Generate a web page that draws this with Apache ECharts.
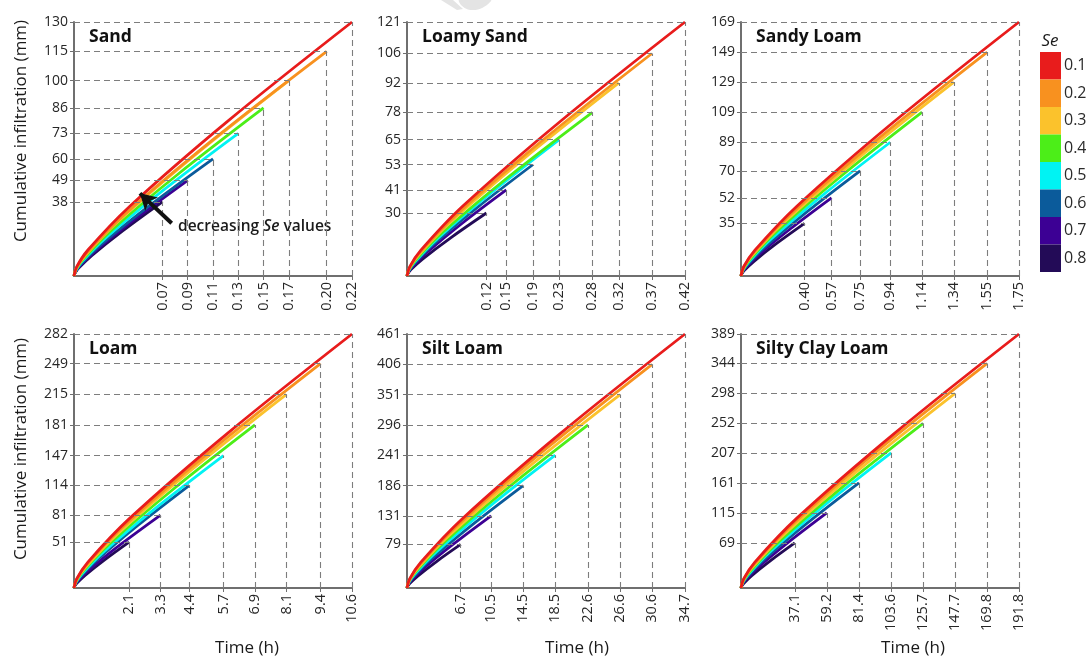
<!DOCTYPE html>
<html>
<head>
<meta charset="utf-8">
<script src="https://cdn.jsdelivr.net/npm/echarts@6/dist/echarts.min.js"></script>
<style>
  html, body { margin: 0; padding: 0; background: #fff; }
  #chart { width: 1086px; height: 659px; }
</style>
</head>
<body>
<div id="chart"></div>
<script>
// Effective saturation classes (legend order, top to bottom)
const seLabels = ['0.1', '0.2', '0.3', '0.4', '0.5', '0.6', '0.7', '0.8'];
const seColors = ['#e81c1c', '#f8911f', '#fbc22c', '#4cee18', '#00f3f3', '#0b5b9b', '#3c0094', '#230b57'];

const soilNames = ['Sand', 'Loamy Sand', 'Sandy Loam', 'Loam', 'Silt Loam', 'Silty Clay Loam'];

// End of each curve: time (h) and cumulative infiltration (mm), ordered Se 0.8 -> 0.1
const sandTimes = ['0.07', '0.09', '0.11', '0.13', '0.15', '0.17', '0.20', '0.22'];
const sandDepths = [38, 49, 60, 73, 86, 100, 115, 130];
const loamySandTimes = ['0.12', '0.15', '0.19', '0.23', '0.28', '0.32', '0.37', '0.42'];
const loamySandDepths = [30, 41, 53, 65, 78, 92, 106, 121];
const sandyLoamTimes = ['0.40', '0.57', '0.75', '0.94', '1.14', '1.34', '1.55', '1.75'];
const sandyLoamDepths = [35, 52, 70, 89, 109, 129, 149, 169];
const loamTimes = ['2.1', '3.3', '4.4', '5.7', '6.9', '8.1', '9.4', '10.6'];
const loamDepths = [51, 81, 114, 147, 181, 215, 249, 282];
const siltLoamTimes = ['6.7', '10.5', '14.5', '18.5', '22.6', '26.6', '30.6', '34.7'];
const siltLoamDepths = [79, 131, 186, 241, 296, 351, 406, 461];
const siltyClayLoamTimes = ['37.1', '59.2', '81.4', '103.6', '125.7', '147.7', '169.8', '191.8'];
const siltyClayLoamDepths = [69, 115, 161, 207, 252, 298, 344, 389];

// Cumulative infiltration curves [time, depth], ordered Se 0.8 -> 0.1
const sandCurves = [
  [[0, 0], [0.0007, 1.4], [0.0035, 3.9], [0.014, 10.4], [0.0385, 23.1], [0.07, 38]],
  [[0, 0], [0.0009, 1.8], [0.0045, 5.0], [0.018, 13.4], [0.0495, 29.7], [0.09, 49]],
  [[0, 0], [0.0011, 2.2], [0.0055, 6.1], [0.022, 16.4], [0.0605, 36.4], [0.11, 60]],
  [[0, 0], [0.0013, 2.7], [0.0065, 7.5], [0.026, 20.0], [0.0715, 44.3], [0.13, 73]],
  [[0, 0], [0.0015, 3.2], [0.0075, 8.8], [0.03, 23.6], [0.0825, 52.2], [0.15, 86]],
  [[0, 0], [0.0017, 3.7], [0.0085, 10.2], [0.034, 27.4], [0.0935, 60.7], [0.17, 100]],
  [[0, 0], [0.002, 4.3], [0.01, 11.7], [0.04, 31.5], [0.11, 69.8], [0.20, 115]],
  [[0, 0], [0.0022, 4.8], [0.011, 13.3], [0.044, 35.6], [0.121, 78.9], [0.22, 130]]
];
const loamySandCurves = [
  [[0, 0], [0.0012, 1.1], [0.006, 3.1], [0.024, 8.2], [0.066, 18.2], [0.12, 30]],
  [[0, 0], [0.0015, 1.5], [0.0075, 4.2], [0.03, 11.2], [0.0825, 24.9], [0.15, 41]],
  [[0, 0], [0.0019, 2.0], [0.0095, 5.4], [0.038, 14.5], [0.1045, 32.2], [0.19, 53]],
  [[0, 0], [0.0023, 2.4], [0.0115, 6.6], [0.046, 17.8], [0.1265, 39.5], [0.23, 65]],
  [[0, 0], [0.0028, 2.9], [0.014, 8.0], [0.056, 21.4], [0.154, 47.4], [0.28, 78]],
  [[0, 0], [0.0032, 3.4], [0.016, 9.4], [0.064, 25.2], [0.176, 55.8], [0.32, 92]],
  [[0, 0], [0.0037, 3.9], [0.0185, 10.8], [0.074, 29.0], [0.2035, 64.3], [0.37, 106]],
  [[0, 0], [0.0042, 4.5], [0.021, 12.3], [0.084, 33.2], [0.231, 73.5], [0.42, 121]]
];
const sandyLoamCurves = [
  [[0, 0], [0.004, 1.3], [0.02, 3.6], [0.08, 9.6], [0.22, 21.3], [0.40, 35]],
  [[0, 0], [0.0057, 1.9], [0.0285, 5.3], [0.114, 14.3], [0.3135, 31.6], [0.57, 52]],
  [[0, 0], [0.0075, 2.6], [0.0375, 7.1], [0.15, 19.2], [0.4125, 42.5], [0.75, 70]],
  [[0, 0], [0.0094, 3.3], [0.047, 9.1], [0.188, 24.4], [0.517, 54.0], [0.94, 89]],
  [[0, 0], [0.0114, 4.0], [0.057, 11.1], [0.228, 29.9], [0.627, 66.2], [1.14, 109]],
  [[0, 0], [0.0134, 4.8], [0.067, 13.2], [0.268, 35.4], [0.737, 78.3], [1.34, 129]],
  [[0, 0], [0.0155, 5.5], [0.0775, 15.2], [0.31, 40.8], [0.8525, 90.4], [1.55, 149]],
  [[0, 0], [0.0175, 6.3], [0.0875, 17.2], [0.35, 46.3], [0.9625, 102.6], [1.75, 169]]
];
const loamCurves = [
  [[0, 0], [0.021, 1.9], [0.105, 5.2], [0.42, 14.0], [1.155, 31.0], [2.1, 51]],
  [[0, 0], [0.033, 3.0], [0.165, 8.3], [0.66, 22.2], [1.815, 49.2], [3.3, 81]],
  [[0, 0], [0.044, 4.2], [0.22, 11.6], [0.88, 31.2], [2.42, 69.2], [4.4, 114]],
  [[0, 0], [0.057, 5.4], [0.285, 15.0], [1.14, 40.3], [3.135, 89.2], [5.7, 147]],
  [[0, 0], [0.069, 6.7], [0.345, 18.5], [1.38, 49.6], [3.795, 109.9], [6.9, 181]],
  [[0, 0], [0.081, 8.0], [0.405, 21.9], [1.62, 58.9], [4.455, 130.5], [8.1, 215]],
  [[0, 0], [0.094, 9.2], [0.47, 25.4], [1.88, 68.2], [5.17, 151.1], [9.4, 249]],
  [[0, 0], [0.106, 10.4], [0.53, 28.8], [2.12, 77.3], [5.83, 171.2], [10.6, 282]]
];
const siltLoamCurves = [
  [[0, 0], [0.067, 2.9], [0.335, 8.1], [1.34, 21.7], [3.685, 48.0], [6.7, 79]],
  [[0, 0], [0.105, 4.9], [0.525, 13.4], [2.1, 35.9], [5.775, 79.5], [10.5, 131]],
  [[0, 0], [0.145, 6.9], [0.725, 19.0], [2.9, 51.0], [7.975, 112.9], [14.5, 186]],
  [[0, 0], [0.185, 8.9], [0.925, 24.6], [3.7, 66.0], [10.175, 146.3], [18.5, 241]],
  [[0, 0], [0.226, 11.0], [1.13, 30.2], [4.52, 81.1], [12.43, 179.7], [22.6, 296]],
  [[0, 0], [0.266, 13.0], [1.33, 35.8], [5.32, 96.2], [14.63, 213.1], [26.6, 351]],
  [[0, 0], [0.306, 15.0], [1.53, 41.4], [6.12, 111.2], [16.83, 246.4], [30.6, 406]],
  [[0, 0], [0.347, 17.1], [1.735, 47.0], [6.94, 126.3], [19.085, 279.8], [34.7, 461]]
];
const siltyClayLoamCurves = [
  [[0, 0], [0.371, 2.6], [1.855, 7.0], [7.42, 18.9], [20.405, 41.9], [37.1, 69]],
  [[0, 0], [0.592, 4.3], [2.96, 11.7], [11.84, 31.5], [32.56, 69.8], [59.2, 115]],
  [[0, 0], [0.814, 6.0], [4.07, 16.4], [16.28, 44.1], [44.77, 97.7], [81.4, 161]],
  [[0, 0], [1.036, 7.7], [5.18, 21.1], [20.72, 56.7], [56.98, 125.7], [103.6, 207]],
  [[0, 0], [1.257, 9.3], [6.285, 25.7], [25.14, 69.1], [69.135, 153.0], [125.7, 252]],
  [[0, 0], [1.477, 11.0], [7.385, 30.4], [29.54, 81.7], [81.235, 180.9], [147.7, 298]],
  [[0, 0], [1.698, 12.7], [8.49, 35.1], [33.96, 94.3], [93.39, 208.8], [169.8, 344]],
  [[0, 0], [1.918, 14.4], [9.59, 39.7], [38.36, 106.6], [105.49, 236.1], [191.8, 389]]
];

// Arrow pointing towards the curves with lower Se (Sand panel, data coordinates)
const arrowFrom = [0.0773, 27];
const arrowTo = [0.0522, 42.3];

const panels = [
  { times: sandTimes, depths: sandDepths, curves: sandCurves },
  { times: loamySandTimes, depths: loamySandDepths, curves: loamySandCurves },
  { times: sandyLoamTimes, depths: sandyLoamDepths, curves: sandyLoamCurves },
  { times: loamTimes, depths: loamDepths, curves: loamCurves },
  { times: siltLoamTimes, depths: siltLoamDepths, curves: siltLoamCurves },
  { times: siltyClayLoamTimes, depths: siltyClayLoamDepths, curves: siltyClayLoamCurves }
];

const FONT = '"Open Sans", "Noto Sans", sans-serif';
const AXIS_GREY = '#6f6f6f';
const colLeft = [74, 407, 741];
const rowTop = [22, 334];
const PW = 278, PH = 254;

const grids = [], xAxes = [], yAxes = [], series = [], graphics = [];

panels.forEach((p, i) => {
  const col = i % 3, row = Math.floor(i / 3);
  const left = colLeft[col], top = rowTop[row];
  grids.push({ left: left, top: top, width: PW, height: PH, containLabel: false });

  const tVals = p.times.map(Number);
  const tMax = tVals[tVals.length - 1];
  const dMax = p.depths[p.depths.length - 1];

  xAxes.push({
    gridIndex: i, type: 'value', min: 0, max: tMax,
    splitLine: { show: false },
    axisLine: { show: true, onZero: false, lineStyle: { color: AXIS_GREY, width: 2 } },
    axisTick: { show: true, customValues: tVals, length: 4, lineStyle: { color: AXIS_GREY, width: 1 } },
    axisLabel: {
      customValues: tVals, rotate: 90, margin: 6,
      fontFamily: FONT, fontSize: 14.5, color: '#262626',
      formatter: v => {
        const k = tVals.findIndex(x => Math.abs(x - v) < 1e-9);
        return k >= 0 ? p.times[k] : '';
      }
    }
  });
  yAxes.push({
    gridIndex: i, type: 'value', min: 0, max: dMax,
    splitLine: { show: false },
    axisLine: { show: true, onZero: false, lineStyle: { color: AXIS_GREY, width: 2 } },
    axisTick: { show: true, customValues: p.depths, length: 4, lineStyle: { color: AXIS_GREY, width: 1 } },
    axisLabel: {
      customValues: p.depths, margin: 6,
      fontFamily: FONT, fontSize: 14, color: '#262626',
      formatter: v => String(Math.round(v))
    }
  });

  // Dashed drop lines from each curve end to both axes
  const guides = [];
  p.depths.forEach((d, k) => {
    guides.push([{ coord: [0, d] }, { coord: [tVals[k], d] }]);
    guides.push([{ coord: [tVals[k], 0] }, { coord: [tVals[k], d] }]);
  });
  series.push({
    type: 'line', xAxisIndex: i, yAxisIndex: i, data: [], z: 1,
    silent: true,
    markLine: {
      silent: true, symbol: 'none', animation: false,
      label: { show: false },
      lineStyle: { color: '#7d7d7d', width: 1.1, type: [6, 4] },
      emphasis: { disabled: true },
      data: guides
    }
  });

  // Curves, drawn from Se 0.8 up to Se 0.1 so the red curve sits on top
  p.curves.forEach((c, k) => {
    series.push({
      type: 'line', xAxisIndex: i, yAxisIndex: i, z: 3,
      name: 'Se ' + seLabels[7 - k],
      data: c, smooth: 0.35, showSymbol: false, silent: true,
      lineStyle: { color: seColors[7 - k], width: 2.8 },
      emphasis: { disabled: true }
    });
  });

  // Panel title
  graphics.push({
    type: 'text', left: left + 15, top: top + 6,
    style: { text: soilNames[i], font: 'bold 17.5px ' + FONT, fill: '#111' }
  });
});

// Annotation arrow in the Sand panel
series.push({
  type: 'line', xAxisIndex: 0, yAxisIndex: 0, data: [], z: 5, silent: true,
  markLine: {
    silent: true, animation: false, symbol: ['none', 'arrow'], symbolSize: [14, 16],
    label: { show: false },
    lineStyle: { color: '#111', width: 4, type: 'solid' },
    emphasis: { disabled: true },
    data: [[{ coord: arrowFrom }, { coord: arrowTo }]]
  }
});

graphics.push({
  type: 'text', left: 178, top: 219,
  style: {
    text: 'decreasing {i|Se} values',
    font: '600 15.5px ' + FONT, fill: '#1a1a1a',
    rich: { i: { fontStyle: 'italic', fontWeight: 600, fontSize: 15.5, fontFamily: FONT, fill: '#1a1a1a' } }
  }
});

// Axis titles
[131, 449].forEach(cy => {
  graphics.push({
    type: 'text', x: 21, y: cy, rotation: Math.PI / 2,
    style: { text: 'Cumulative infiltration (mm)', font: '17px ' + FONT, fill: '#1a1a1a', align: 'center', verticalAlign: 'middle' }
  });
});
[247, 577, 913].forEach(cx => {
  graphics.push({
    type: 'text', x: cx, y: 648,
    style: { text: 'Time (h)', font: '17px ' + FONT, fill: '#1a1a1a', align: 'center', verticalAlign: 'middle' }
  });
});

// Faint stamp at the top edge
graphics.push({
  type: 'polygon', silent: true,
  shape: { points: [[441, 0], [453, 0], [463, 9], [457, 10]] },
  style: { fill: '#e4e4e4' }
});
graphics.push({
  type: 'polygon', silent: true, shape: {
    points: [[459, 0], [491, 0], [487, 5], [478, 9.5], [468, 9.5], [461, 5]], smooth: 0.3
  },
  style: { fill: '#e4e4e4' }
});

// Se colour key
graphics.push({
  type: 'text', x: 1050, y: 41,
  style: { text: 'Se', font: 'italic 17px ' + FONT, fill: '#1a1a1a', align: 'center', verticalAlign: 'middle' }
});
const keyTop = 52, keyH = 27.5;
seLabels.forEach((lab, k) => {
  graphics.push({
    type: 'rect', shape: { x: 1040, y: keyTop + k * keyH, width: 21, height: keyH },
    style: { fill: seColors[k] }
  });
  graphics.push({
    type: 'text', x: 1064, y: keyTop + k * keyH + keyH / 2,
    style: { text: lab, font: '16px ' + FONT, fill: '#2b2b2b', verticalAlign: 'middle' }
  });
});

const chart = echarts.init(document.getElementById('chart'), null, { renderer: 'canvas' });
chart.setOption({
  animation: false,
  backgroundColor: '#fff',
  grid: grids,
  xAxis: xAxes,
  yAxis: yAxes,
  series: series,
  graphic: graphics
});
</script>
</body>
</html>
